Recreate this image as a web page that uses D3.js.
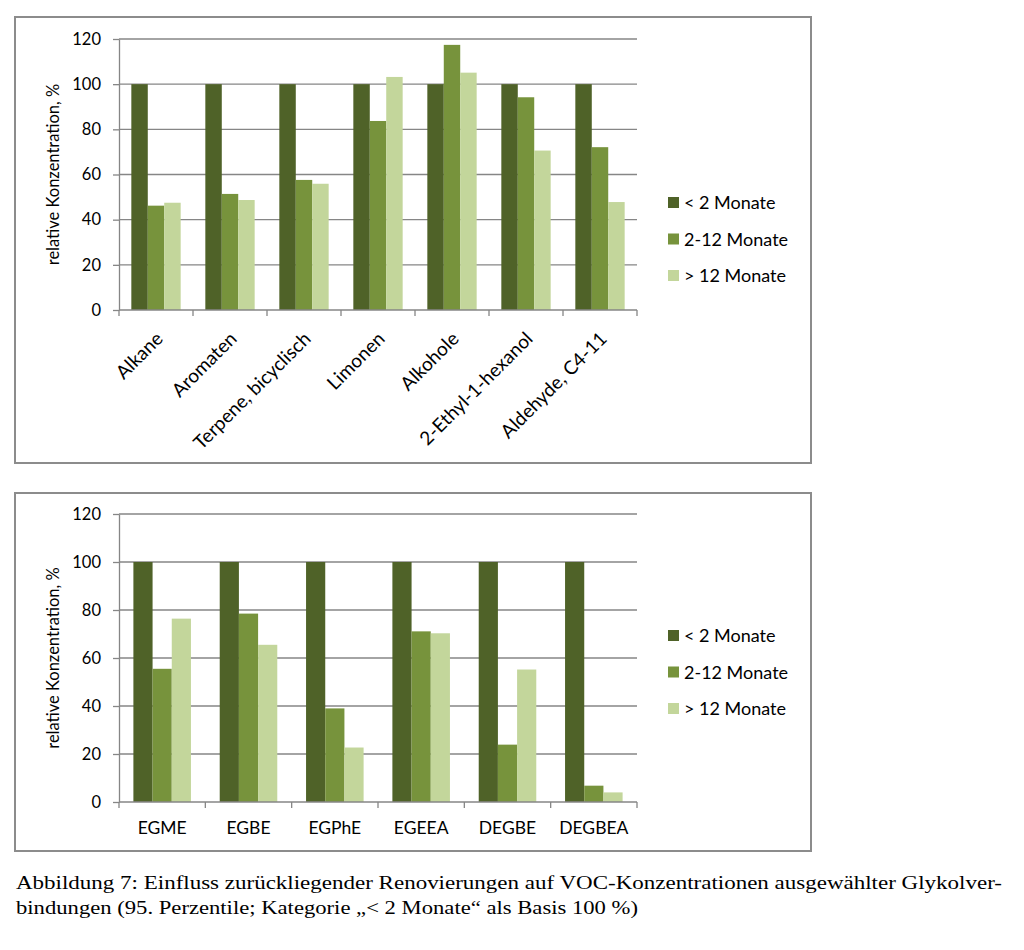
<!DOCTYPE html>
<html>
<head>
<meta charset="utf-8">
<script src="https://cdn.jsdelivr.net/npm/d3@7"></script>
<style>
  body { margin: 0; background: #fff; }
  svg text { font-family: Lato, "Open Sans", sans-serif; }
</style>
</head>
<body>
<svg id="chart" width="1024" height="950"></svg>
<script>
// Data
const series = ["< 2 Monate", "2-12 Monate", "> 12 Monate"];
const colors = ["#4f6228", "#77933c", "#c3d69b"];
const yTicks = [0, 20, 40, 60, 80, 100, 120];

const vocCategories = ["Alkane", "Aromaten", "Terpene, bicyclisch", "Limonen", "Alkohole", "2-Ethyl-1-hexanol", "Aldehyde, C4-11"];
const vocLt2 = [100, 100, 100, 100, 100, 100, 100];
const voc2to12 = [46.2, 51.4, 57.6, 83.7, 117.4, 94.2, 72.1];
const vocGt12 = [47.5, 48.7, 55.9, 103.2, 105.1, 70.6, 47.8];

const glyCategories = ["EGME", "EGBE", "EGPhE", "EGEEA", "DEGBE", "DEGBEA"];
const glyLt2 = [100, 100, 100, 100, 100, 100];
const gly2to12 = [55.5, 78.5, 39.0, 71.1, 23.9, 6.8];
const glyGt12 = [76.4, 65.5, 22.7, 70.3, 55.2, 4.0];

const captionLines = [
  "Abbildung 7: Einfluss zurückliegender Renovierungen auf VOC-Konzentrationen ausgewählter Glykolver-",
  "bindungen (95. Perzentile; Kategorie „< 2 Monate“ als Basis 100 %)"
];

const svg = d3.select("#chart");
svg.append("rect").attr("width", 1024).attr("height", 950).attr("fill", "#fff");

function drawPanel(opt) {
  const { box, plot, categories, values, rotate, legendY } = opt;
  const g = svg.append("g");

  // outer frame
  g.append("rect")
    .attr("x", box.x).attr("y", box.y)
    .attr("width", box.w).attr("height", box.h)
    .attr("fill", "#fff")
    .attr("stroke", "#8c8c8c")
    .attr("stroke-width", 2);

  const x0 = d3.scaleBand()
    .domain(categories)
    .range([plot.x0, plot.x1])
    .paddingInner(0)
    .paddingOuter(0);

  // Excel gap width 150%: 3 bars + 0.75 bar on each side
  const x1 = d3.scaleBand()
    .domain(d3.range(series.length))
    .range([0, x0.bandwidth()])
    .paddingInner(0)
    .paddingOuter(0.75);

  const y = d3.scaleLinear().domain([0, 120]).range([plot.y1, plot.y0]);

  // gridlines
  g.append("g")
    .selectAll("line")
    .data(yTicks.filter(d => d > 0))
    .join("line")
    .attr("x1", plot.x0).attr("x2", plot.x1)
    .attr("y1", d => y(d)).attr("y2", d => y(d))
    .attr("stroke", "#868686")
    .attr("stroke-width", 1.3);

  // y axis
  const yAxis = g.append("g")
    .attr("transform", `translate(${plot.x0},0)`)
    .call(d3.axisLeft(y).tickValues(yTicks).tickSize(6).tickPadding(12).tickSizeOuter(0));
  yAxis.select(".domain").attr("stroke", "#868686").attr("stroke-width", 1.3);
  yAxis.selectAll(".tick line").attr("stroke", "#868686").attr("stroke-width", 1.3);
  yAxis.selectAll(".tick text")
    .attr("font-size", 16.5)
    .attr("fill", "#000")
    .style("font-family", "Lato, 'Open Sans', sans-serif");

  // bars
  const rows = categories.map((c, i) => ({ cat: c, vals: values.map(v => v[i]) }));
  g.append("g")
    .selectAll("g")
    .data(rows)
    .join("g")
    .attr("transform", d => `translate(${x0(d.cat)},0)`)
    .selectAll("rect")
    .data(d => d.vals.map((v, k) => ({ k, v })))
    .join("rect")
    .attr("x", d => x1(d.k))
    .attr("width", x1.bandwidth())
    .attr("y", d => y(d.v))
    .attr("height", d => y(0) - y(d.v))
    .attr("fill", d => colors[d.k]);

  // x axis line + ticks at category boundaries
  const xb = g.append("g");
  xb.append("line")
    .attr("x1", plot.x0).attr("x2", plot.x1)
    .attr("y1", y(0)).attr("y2", y(0))
    .attr("stroke", "#868686").attr("stroke-width", 1.3);
  const bounds = categories.map(c => x0(c)).concat([plot.x1]);
  xb.selectAll("line.tk")
    .data(bounds)
    .join("line")
    .attr("class", "tk")
    .attr("x1", d => d).attr("x2", d => d)
    .attr("y1", y(0)).attr("y2", y(0) + 6)
    .attr("stroke", "#868686").attr("stroke-width", 1.3);

  // x labels
  const labels = xb.selectAll("text.lbl")
    .data(categories)
    .join("text")
    .attr("class", "lbl")
    .attr("fill", "#000")
    .text(d => d);
  if (rotate) {
    labels
      .attr("font-size", 19)
      .attr("text-anchor", "end")
      .attr("transform", d => `translate(${x0(d) + x0.bandwidth() / 2 + 8},${y(0) + 30}) rotate(-45)`);
  } else {
    labels
      .attr("font-size", 17.5)
      .attr("text-anchor", "middle")
      .attr("x", d => x0(d) + x0.bandwidth() / 2)
      .attr("y", y(0) + 32);
  }

  // y title
  g.append("text")
    .attr("transform", `translate(${box.x + 44},${(plot.y0 + plot.y1) / 2}) rotate(-90)`)
    .attr("text-anchor", "middle")
    .attr("font-size", 16.5)
    .attr("fill", "#000")
    .text("relative Konzentration, %");

  // legend
  const lg = g.append("g").attr("transform", `translate(668,${legendY})`);
  const item = lg.selectAll("g")
    .data(series)
    .join("g")
    .attr("transform", (d, i) => `translate(0,${i * 36.5})`);
  item.append("rect")
    .attr("x", 0).attr("y", -6)
    .attr("width", 11).attr("height", 11)
    .attr("fill", (d, i) => colors[i]);
  item.append("text")
    .attr("x", 16).attr("y", 0)
    .attr("dy", "0.35em")
    .attr("font-size", 18)
    .attr("fill", "#000")
    .text(d => d);
}

drawPanel({
  box: { x: 15, y: 17, w: 796, h: 446 },
  plot: { x0: 119, x1: 637, y0: 39, y1: 310 },
  categories: vocCategories,
  values: [vocLt2, voc2to12, vocGt12],
  rotate: true,
  legendY: 203
});

drawPanel({
  box: { x: 15, y: 493, w: 796, h: 358 },
  plot: { x0: 119, x1: 637, y0: 514, y1: 802 },
  categories: glyCategories,
  values: [glyLt2, gly2to12, glyGt12],
  rotate: false,
  legendY: 636
});

// caption
svg.append("g")
  .selectAll("text")
  .data(captionLines)
  .join("text")
  .attr("x", 16)
  .attr("y", (d, i) => 889 + i * 25)
  .attr("font-size", 18)
  .attr("fill", "#000")
  .style("font-family", "'Liberation Serif', 'DejaVu Serif', serif")
  .attr("textLength", (d, i) => i === 0 ? 986 : 622)
  .attr("lengthAdjust", "spacingAndGlyphs")
  .text(d => d);
</script>
</body>
</html>
